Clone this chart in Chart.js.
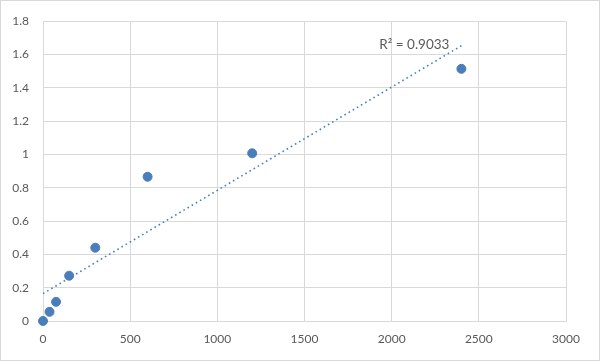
<!DOCTYPE html>
<html lang="en">
<head>
  <meta charset="utf-8">
  <title>Standard curve</title>
  <script src="https://cdn.jsdelivr.net/npm/chart.js@4.4.1/dist/chart.umd.min.js"></script>
  <style>
    html, body { margin: 0; padding: 0; background: #fff; }
    #wrap { width: 600px; height: 361px; position: relative; }
  </style>
</head>
<body>
  <div id="wrap"><canvas id="curve"></canvas></div>
  <script>
    // Values
    const concentrations = [0, 37.5, 75, 150, 300, 600, 1200, 2400];
    const readings = [0, 0.055, 0.115, 0.272, 0.44, 0.866, 1.007, 1.514];
    const xTicks = [0, 500, 1000, 1500, 2000, 2500, 3000];
    const yTicks = [0, 0.2, 0.4, 0.6, 0.8, 1, 1.2, 1.4, 1.6, 1.8];
    const rSquaredLabel = 'R² = 0.9033';

    // linear trendline (least squares) over the points
    const n = concentrations.length;
    const mx = concentrations.reduce((a, b) => a + b, 0) / n;
    const my = readings.reduce((a, b) => a + b, 0) / n;
    let sxy = 0, sxx = 0;
    for (let i = 0; i < n; i++) {
      sxy += (concentrations[i] - mx) * (readings[i] - my);
      sxx += (concentrations[i] - mx) ** 2;
    }
    const slope = sxy / sxx;
    const intercept = my - slope * mx;
    const xFirst = concentrations[0], xLast = concentrations[n - 1];
    const trend = [
      { x: xFirst, y: intercept + slope * xFirst },
      { x: xLast, y: intercept + slope * xLast }
    ];

    const blue = '#4a7ebb';
    const grid = '#d9d9d9';
    const txt = '#595959';
    const font = "Lato, 'Open Sans', sans-serif";

    const frame = {
      id: 'frame',
      afterDraw(chart) {
        const c = chart.ctx;
        c.save();
        c.strokeStyle = '#d9d9d9';
        c.lineWidth = 1;
        c.strokeRect(0.5, 0.5, chart.width - 1, chart.height - 1);
        // R squared label near the end of the trendline
        const px = chart.scales.x.getPixelForValue(trend[1].x);
        const py = chart.scales.y.getPixelForValue(trend[1].y);
        c.fillStyle = txt;
        c.font = '13.5px ' + font;
        c.textAlign = 'right';
        c.textBaseline = 'middle';
        c.fillText(rSquaredLabel, px - 12, py - 1);
        c.restore();
      }
    };

    new Chart(document.getElementById('curve'), {
      type: 'scatter',
      data: {
        datasets: [
          {
            label: 'points',
            data: concentrations.map((x, i) => ({ x: x, y: readings[i] })),
            backgroundColor: blue,
            borderColor: blue,
            pointRadius: 4.5,
            pointHoverRadius: 4.5,
            clip: false,
            order: 1
          },
          {
            label: 'trend',
            type: 'line',
            data: trend,
            borderColor: blue,
            borderWidth: 1.6,
            borderDash: [1.6, 3.2],
            pointRadius: 0,
            fill: false,
            order: 2
          }
        ]
      },
      options: {
        responsive: true,
        maintainAspectRatio: false,
        animation: false,
        layout: { padding: { top: 12, right: 34, bottom: 7, left: 0 } },
        plugins: {
          legend: { display: false },
          tooltip: { enabled: false }
        },
        scales: {
          x: {
            type: 'linear',
            min: xTicks[0],
            max: xTicks[xTicks.length - 1],
            afterBuildTicks: s => { s.ticks = xTicks.map(v => ({ value: v })); },
            grid: { color: grid, lineWidth: 1, drawTicks: false },
            border: { color: grid },
            ticks: {
              color: txt,
              font: { family: font, size: 12 },
              padding: 11,
              maxRotation: 0,
              callback: v => String(v)
            },
            afterFit: s => { s.height = 33; }
          },
          y: {
            min: yTicks[0],
            max: yTicks[yTicks.length - 1],
            afterBuildTicks: s => { s.ticks = yTicks.map(v => ({ value: v })); },
            grid: { color: grid, lineWidth: 1, drawTicks: false },
            border: { color: grid },
            ticks: {
              color: txt,
              font: { family: font, size: 12 },
              padding: 14,
              callback: v => String(Math.round(v * 10) / 10)
            },
            afterFit: s => { s.width = 43; }
          }
        }
      },
      plugins: [frame]
    });
  </script>
</body>
</html>
